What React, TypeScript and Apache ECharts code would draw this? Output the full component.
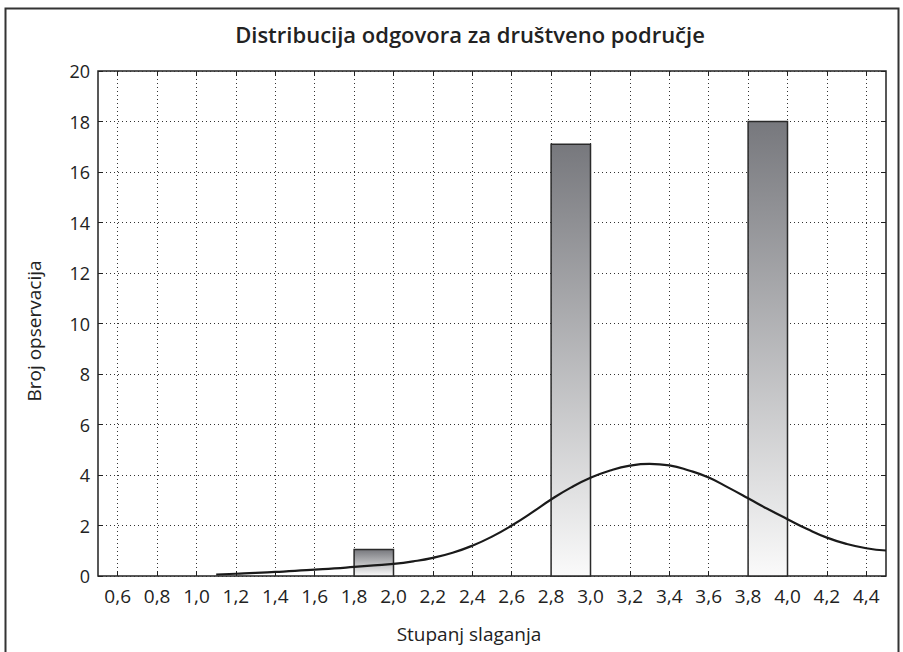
import React, { useEffect, useRef } from "react";
import * as echarts from "echarts";

const TITLE = "Distribucija odgovora za društveno područje";
const X_NAME = "Stupanj slaganja";
const Y_NAME = "Broj opservacija";

// histogram bins: start, end, count
const binStarts = [1.8, 2.8, 3.8];
const binEnds = [2.0, 3.0, 4.0];
const binCounts = [1.05, 17.1, 18];

// fitted curve
const curveX = [1.1, 1.2, 1.3, 1.4, 1.5, 1.6, 1.7, 1.8, 1.9, 2.0, 2.1, 2.2, 2.3, 2.4, 2.5, 2.6, 2.7, 2.8, 2.9, 3.0, 3.1, 3.2, 3.3, 3.4, 3.5, 3.6, 3.7, 3.8, 3.9, 4.0, 4.1, 4.2, 4.3, 4.4, 4.5];
const curveY = [0.06, 0.09, 0.12, 0.16, 0.2, 0.25, 0.3, 0.36, 0.42, 0.48, 0.58, 0.72, 0.92, 1.2, 1.56, 2.0, 2.5, 3.03, 3.5, 3.89, 4.18, 4.37, 4.44, 4.38, 4.18, 3.9, 3.5, 3.08, 2.65, 2.25, 1.86, 1.52, 1.27, 1.1, 1.01];

const xMin = 0.5, xMax = 4.5;
const tickMin = 0.6, tickMax = 4.4, tickStep = 0.2;
const yMin = 0, yMax = 20, yStep = 2;

const FONT = "Open Sans";

export default function App() {
  const ref = useRef<HTMLDivElement>(null);
  useEffect(() => {
    if (!ref.current) return;
    const chart = echarts.init(ref.current, null, { renderer: "svg" });
    const gLeft = 98, gWidth = 788, gTop = 71, gHeight = 505;
    const unit = gWidth / (xMax - xMin);
    const g1Left = gLeft + (tickMin - xMin) * unit;
    const g1Width = (tickMax - tickMin) * unit;
    const txt = { color: "#222", fontFamily: FONT };
    const dotted = { type: [1, 3] as any, color: "#333", width: 1 };
    chart.setOption({
      animation: false,
      grid: [
        { left: gLeft, top: gTop, width: gWidth, height: gHeight, show: true, borderColor: "#222", borderWidth: 1.5, backgroundColor: "transparent" },
        { left: g1Left, top: gTop, width: g1Width, height: gHeight, show: false },
      ],
      xAxis: [
        { type: "value", gridIndex: 0, min: xMin, max: xMax, axisLine: { show: false }, axisTick: { show: false }, axisLabel: { show: false }, splitLine: { show: false } },
        {
          type: "value", gridIndex: 1, min: tickMin, max: tickMax, interval: tickStep, position: "bottom",
          axisLine: { show: false },
          axisTick: { show: true, inside: true, length: 5, lineStyle: { color: "#222", width: 1 } },
          axisLabel: { ...txt, fontSize: 19, margin: 10, formatter: (v: number) => v.toFixed(1).replace(".", ",") },
          splitLine: { show: true, lineStyle: dotted },
        },
        {
          type: "value", gridIndex: 1, min: tickMin, max: tickMax, interval: tickStep, position: "top",
          axisLine: { show: false },
          axisTick: { show: true, inside: true, length: 5, lineStyle: { color: "#222", width: 1 } },
          axisLabel: { show: false }, splitLine: { show: false },
        },
      ],
      yAxis: [
        {
          type: "value", gridIndex: 0, min: yMin, max: yMax, interval: yStep, position: "left",
          axisLine: { show: false },
          axisTick: { show: true, inside: true, length: 5, lineStyle: { color: "#222", width: 1 } },
          axisLabel: { ...txt, fontSize: 18, margin: 8 },
          splitLine: { show: true, lineStyle: dotted },
        },
        {
          type: "value", gridIndex: 0, min: yMin, max: yMax, interval: yStep, position: "right",
          axisLine: { show: false },
          axisTick: { show: true, inside: true, length: 5, lineStyle: { color: "#222", width: 1 } },
          axisLabel: { show: false }, splitLine: { show: false },
        },
        { type: "value", gridIndex: 1, min: yMin, max: yMax, show: false },
      ],
      graphic: [
        { type: "rect", shape: { x: 5.5, y: 8.5, width: 893, height: 700 }, style: { fill: "none", stroke: "#333", lineWidth: 2 }, z: 100, silent: true },
        { type: "text", x: 470, y: 34, style: { text: TITLE, fontFamily: FONT, fontSize: 22, fontWeight: 600, fill: "#222", align: "center", verticalAlign: "middle" } },
        { type: "text", x: 469, y: 634, style: { text: X_NAME, fontFamily: FONT, fontSize: 19, fill: "#222", align: "center", verticalAlign: "middle" } },
        { type: "text", x: 34, y: 331, rotation: Math.PI / 2, style: { text: Y_NAME, fontFamily: FONT, fontSize: 19, fill: "#222", align: "center", verticalAlign: "middle" } },
      ],
      series: [
        {
          type: "custom",
          xAxisIndex: 0, yAxisIndex: 0,
          data: binStarts.map((s, i) => [s, binEnds[i], binCounts[i]]),
          encode: { x: [0, 1], y: 2 },
          renderItem: (params: any, api: any) => {
            const p0 = api.coord([api.value(0), api.value(2)]);
            const p1 = api.coord([api.value(1), 0]);
            return {
              type: "rect",
              shape: { x: p0[0], y: p0[1], width: p1[0] - p0[0], height: p1[1] - p0[1] },
              style: {
                fill: new echarts.graphic.LinearGradient(0, 0, 0, 1, [
                  { offset: 0, color: "#77787d" },
                  { offset: 1, color: "#fafafa" },
                ]),
                stroke: "#2a2a2a",
                lineWidth: 1.5,
              },
            };
          },
          z: 3,
        },
        {
          type: "line",
          xAxisIndex: 0, yAxisIndex: 0,
          data: curveX.map((x, i) => [x, curveY[i]]),
          smooth: true,
          showSymbol: false,
          lineStyle: { color: "#1a1a1a", width: 2.2 },
          z: 4,
        },
      ],
    });
    return () => chart.dispose();
  }, []);
  return <div ref={ref} style={{ position: "absolute", left: 0, top: 0, width: 903, height: 652 }} />;
}
